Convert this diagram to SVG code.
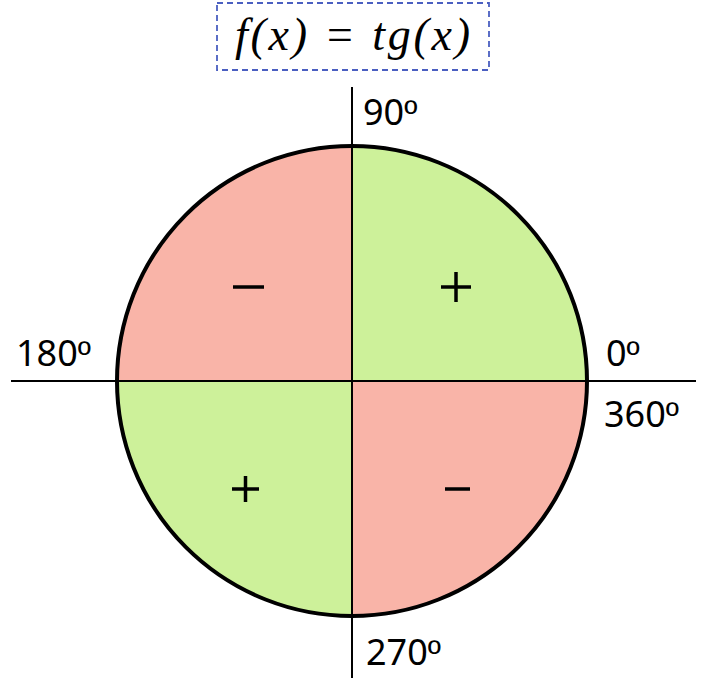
<svg xmlns="http://www.w3.org/2000/svg" width="706" height="684" viewBox="0 0 706 684">
<style>
.lbl{font-family:"Noto Sans","Open Sans","Liberation Sans",sans-serif;font-size:36px;fill:#000}
.o{font-family:"Liberation Sans",sans-serif}
.sign{stroke:#000;stroke-width:3.5;fill:none}
.ax{stroke:#000;stroke-width:2}
</style>
<rect width="706" height="684" fill="#fff"/>
<g id="title">
<rect x="217" y="3" width="272" height="67" fill="none" stroke="#4a5fc1" stroke-width="1.8" stroke-dasharray="6,4"/>
<text x="235" y="50" textLength="235" lengthAdjust="spacing" font-family="'Liberation Serif',serif" font-style="italic" font-size="46">f(x) = tg(x)</text>
</g>
<g id="circle">
<path d="M352,381 L587,381 A235,235 0 0 0 352,146 Z" fill="#cdf19a"/>
<path d="M352,381 L352,146 A235,235 0 0 0 117,381 Z" fill="#f9b4a8"/>
<path d="M352,381 L117,381 A235,235 0 0 0 352,616 Z" fill="#cdf19a"/>
<path d="M352,381 L352,616 A235,235 0 0 0 587,381 Z" fill="#f9b4a8"/>
<circle cx="352" cy="381" r="235" fill="none" stroke="#000" stroke-width="4"/>
</g>
<g id="axes">
<line class="ax" x1="11" y1="381" x2="696" y2="381"/>
<line class="ax" x1="352" y1="87" x2="352" y2="678"/>
</g>
<g id="signs">
<line class="sign" x1="233" y1="287" x2="264" y2="287"/>
<line class="sign" x1="441" y1="287" x2="471" y2="287"/>
<line class="sign" x1="456" y1="272" x2="456" y2="302"/>
<line class="sign" x1="232" y1="489" x2="259" y2="489"/>
<line class="sign" x1="245.5" y1="476" x2="245.5" y2="502"/>
<line class="sign" x1="445" y1="489" x2="470" y2="489"/>
</g>
<g id="labels">
<text class="lbl" x="363" y="125">90<tspan class="o">º</tspan></text>
<text class="lbl" x="16" y="366">180<tspan class="o">º</tspan></text>
<text class="lbl" x="606" y="366">0<tspan class="o">º</tspan></text>
<text class="lbl" x="604" y="427">360<tspan class="o">º</tspan></text>
<text class="lbl" x="366" y="665">270<tspan class="o">º</tspan></text>
</g>
</svg>
